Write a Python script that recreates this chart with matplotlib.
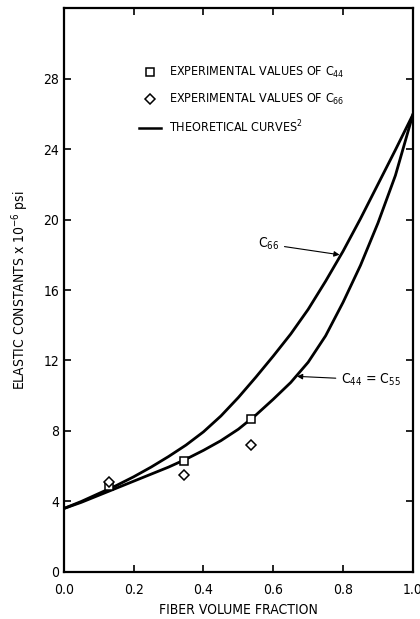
import matplotlib
matplotlib.use("Agg")
import matplotlib.pyplot as plt
from matplotlib.lines import Line2D

plt.rcParams["font.family"] = ["DejaVu Sans"]
plt.rcParams["font.stretch"] = "condensed"

# THEORETICAL CURVES
vf = [0.0, 0.05, 0.1, 0.15, 0.2, 0.25, 0.3, 0.35, 0.4, 0.45, 0.5,
      0.55, 0.6, 0.65, 0.7, 0.75, 0.8, 0.85, 0.9, 0.95, 1.0]
c66_curve = [3.6, 4.0, 4.45, 4.9, 5.4, 5.95, 6.55, 7.2, 7.95, 8.85, 9.9,
             11.05, 12.25, 13.5, 14.9, 16.5, 18.2, 20.05, 22.0, 23.95, 25.95]
c44_curve = [3.6, 3.95, 4.35, 4.75, 5.15, 5.55, 5.95, 6.4, 6.9, 7.45, 8.1,
             8.9, 9.8, 10.75, 11.9, 13.4, 15.3, 17.4, 19.8, 22.5, 25.95]

# EXPERIMENTAL VALUES
exp_vf = [0.13, 0.343, 0.536]
exp_c44 = [4.9, 6.3, 8.7]
exp_c66 = [5.1, 5.5, 7.2]

x_ticks = [0.0, 0.2, 0.4, 0.6, 0.8, 1.0]
y_ticks = [0, 4, 8, 12, 16, 20, 24, 28, 32]
y_labels = ["0", "4", "8", "12", "16", "20", "24", "28", ""]

fig = plt.figure(figsize=(4.2, 6.19), dpi=100)
ax = fig.add_axes([0.152, 0.076, 0.831, 0.911])

ax.plot(vf, c66_curve, color="black", lw=2.0)
ax.plot(vf, c44_curve, color="black", lw=2.0)

ax.plot(exp_vf, exp_c44, "s", ms=6, mfc="white", mec="black", mew=1.1, zorder=5)
ax.plot(exp_vf, exp_c66, "D", ms=5.5, mfc="white", mec="black", mew=1.1, zorder=5)

ax.set_xlim(0, 1.0)
ax.set_ylim(0, 32)
ax.set_xticks(x_ticks)
ax.set_xticklabels([f"{t:.1f}" for t in x_ticks])
ax.set_yticks(y_ticks)
ax.set_yticklabels(y_labels)

ax.tick_params(direction="in", length=5, width=1.2, labelsize=10,
               top=True, right=True)
ax.tick_params(axis="x", pad=8)
for s in ax.spines.values():
    s.set_linewidth(1.6)

ax.set_xlabel("FIBER VOLUME FRACTION", fontsize=10, labelpad=4)
ax.set_ylabel("ELASTIC CONSTANTS x 10$^{-6}$ psi", fontsize=10, labelpad=9)

# LEGEND

handles = [
    Line2D([], [], marker="s", ls="none", ms=6, mfc="white", mec="black", mew=1.1),
    Line2D([], [], marker="D", ls="none", ms=5.5, mfc="white", mec="black", mew=1.1),
    Line2D([], [], color="black", lw=1.8),
]
labels = [
    "EXPERIMENTAL VALUES OF C$_{44}$",
    "EXPERIMENTAL VALUES OF C$_{66}$",
    "THEORETICAL CURVES$^{2}$",
]
ax.legend(handles, labels, loc="upper left", bbox_to_anchor=(0.2, 0.908),
          frameon=False, fontsize=9, handlelength=1.8, handletextpad=0.6,
          labelspacing=0.95, borderaxespad=0)

# CURVE LABELS

ax.annotate("C$_{66}$", xy=(0.79, 18.0), xytext=(0.555, 18.6),
            fontsize=10, va="center",
            arrowprops=dict(arrowstyle="-|>", color="black", lw=0.8,
                            shrinkA=2, shrinkB=0, mutation_scale=8))
ax.annotate("C$_{44}$ = C$_{55}$", xy=(0.668, 11.1), xytext=(0.795, 10.9),
            fontsize=10, va="center",
            arrowprops=dict(arrowstyle="-|>", color="black", lw=0.8,
                            shrinkA=2, shrinkB=0, mutation_scale=8))

plt.savefig("out.png", dpi=100)
